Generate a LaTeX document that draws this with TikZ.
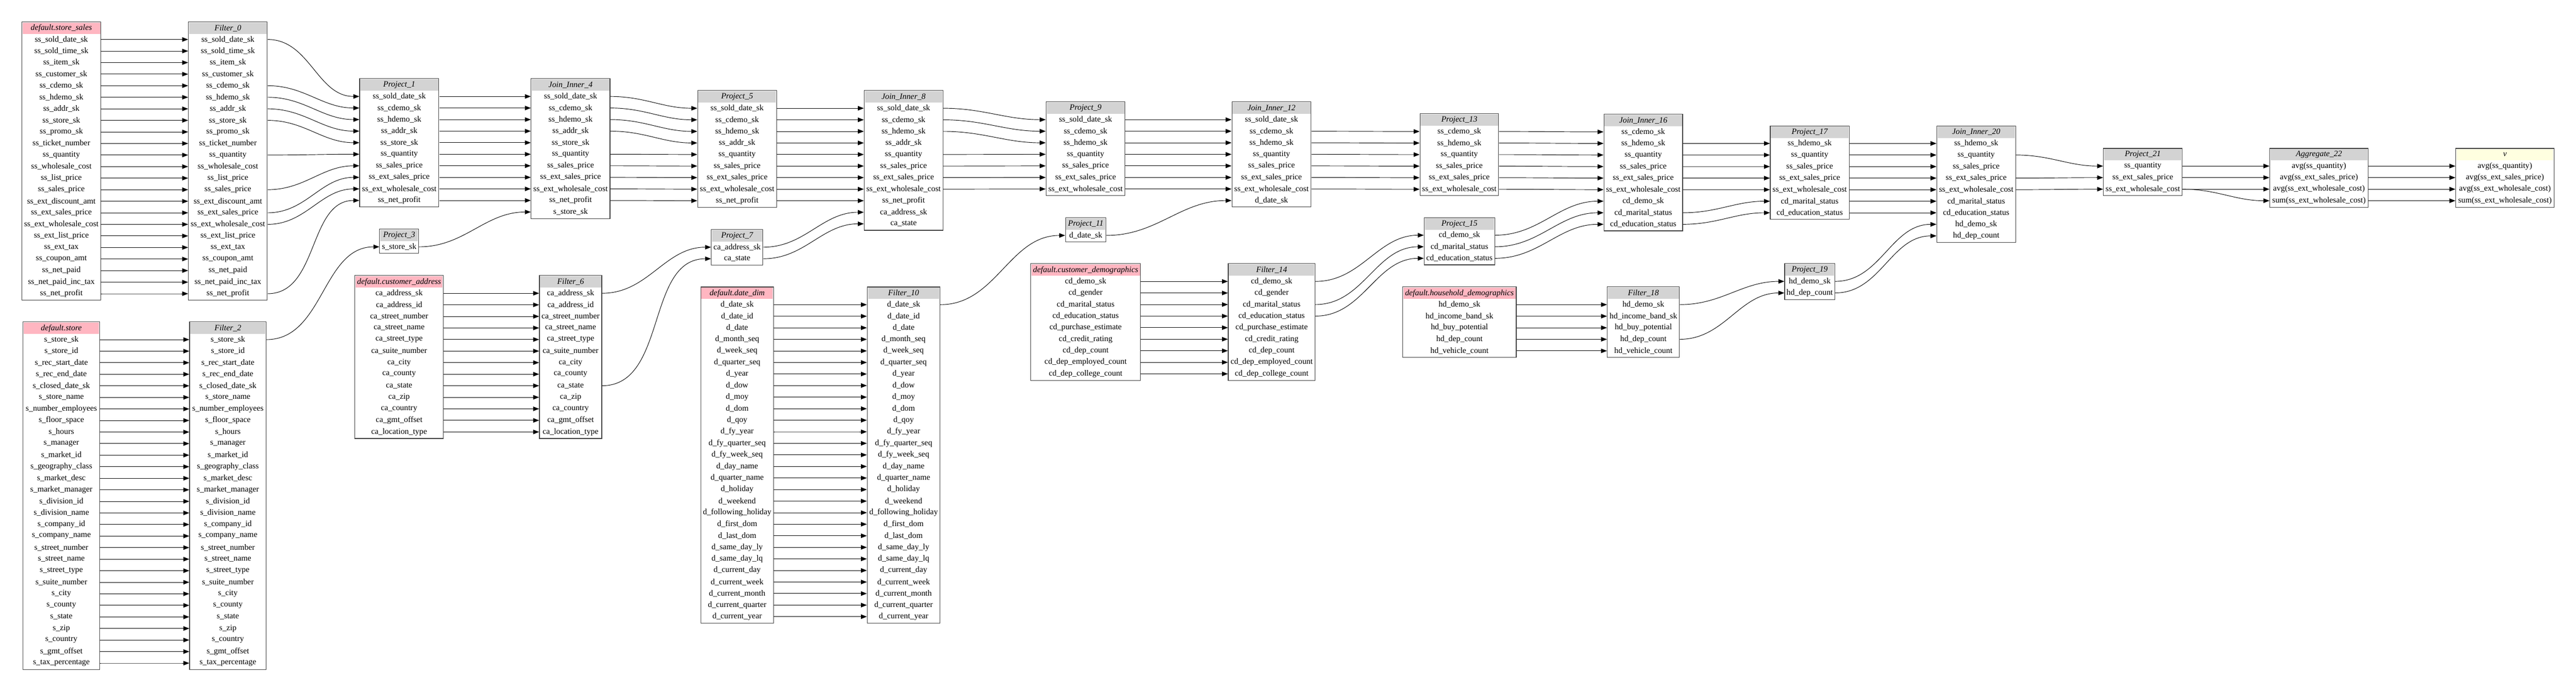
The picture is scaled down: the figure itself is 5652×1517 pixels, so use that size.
\documentclass[tikz,border=0pt]{standalone}
\usepackage{fontspec}
\setmainfont{Liberation Serif}
\usetikzlibrary{arrows.meta}

\definecolor{srcpink}{HTML}{FFB6C1}
\definecolor{opgray}{HTML}{D3D3D3}
\definecolor{outyellow}{HTML}{FFFFE0}

\tikzset{
  field/.style={inner sep=0pt, minimum height=0.2535cm, font=\fontsize{5.1}{6}\selectfont},
  title/.style={inner sep=0pt, font=\fontsize{5.1}{6}\selectfont\itshape},
  frame/.style={draw=black!75, line width=0.35pt},
  link/.style={-{Triangle[length=3.7pt,width=2.8pt]}, line width=0.3pt, out=0, in=180},
}

\newcommand{\optable}[7]{%
  \fill[#5] (#2+1.5,#3+1.5) rectangle (#2+#4-1.5,#3+26.5);
  \node[title] (#1-0) at (#2+#4/2,#3+14) {#6};
  \foreach \r [count=\i] in {#7} {
    \node[field, minimum width=#4*0.01cm] (#1-\i) at (#2+#4/2,#3+38.8+\i*25.35-25.35) {\r};
    \xdef\nrows{\i}
  }
  \draw[frame] (#2,#3) rectangle (#2+#4,#3+38.8+\nrows*25.35-25.35+14.3);
}

\begin{document}
\begin{tikzpicture}[x=0.01cm, y=-0.01cm]
\useasboundingbox (0,0) rectangle (5652,1517);

\optable{ss}{47.8}{47.8}{173.6}{srcpink}{default.store\_sales}{ss\_sold\_date\_sk, ss\_sold\_time\_sk, ss\_item\_sk, ss\_customer\_sk, ss\_cdemo\_sk, ss\_hdemo\_sk, ss\_addr\_sk, ss\_store\_sk, ss\_promo\_sk, ss\_ticket\_number, ss\_quantity, ss\_wholesale\_cost, ss\_list\_price, ss\_sales\_price, ss\_ext\_discount\_amt, ss\_ext\_sales\_price, ss\_ext\_wholesale\_cost, ss\_ext\_list\_price, ss\_ext\_tax, ss\_coupon\_amt, ss\_net\_paid, ss\_net\_paid\_inc\_tax, ss\_net\_profit}
\optable{f0}{413.4}{47.8}{173.2}{opgray}{Filter\_0}{ss\_sold\_date\_sk, ss\_sold\_time\_sk, ss\_item\_sk, ss\_customer\_sk, ss\_cdemo\_sk, ss\_hdemo\_sk, ss\_addr\_sk, ss\_store\_sk, ss\_promo\_sk, ss\_ticket\_number, ss\_quantity, ss\_wholesale\_cost, ss\_list\_price, ss\_sales\_price, ss\_ext\_discount\_amt, ss\_ext\_sales\_price, ss\_ext\_wholesale\_cost, ss\_ext\_list\_price, ss\_ext\_tax, ss\_coupon\_amt, ss\_net\_paid, ss\_net\_paid\_inc\_tax, ss\_net\_profit}
\optable{st}{50.4}{706.2}{168.4}{srcpink}{default.store}{s\_store\_sk, s\_store\_id, s\_rec\_start\_date, s\_rec\_end\_date, s\_closed\_date\_sk, s\_store\_name, s\_number\_employees, s\_floor\_space, s\_hours, s\_manager, s\_market\_id, s\_geography\_class, s\_market\_desc, s\_market\_manager, s\_division\_id, s\_division\_name, s\_company\_id, s\_company\_name, s\_street\_number, s\_street\_name, s\_street\_type, s\_suite\_number, s\_city, s\_county, s\_state, s\_zip, s\_country, s\_gmt\_offset, s\_tax\_percentage}
\optable{f2}{416}{706.2}{168}{opgray}{Filter\_2}{s\_store\_sk, s\_store\_id, s\_rec\_start\_date, s\_rec\_end\_date, s\_closed\_date\_sk, s\_store\_name, s\_number\_employees, s\_floor\_space, s\_hours, s\_manager, s\_market\_id, s\_geography\_class, s\_market\_desc, s\_market\_manager, s\_division\_id, s\_division\_name, s\_company\_id, s\_company\_name, s\_street\_number, s\_street\_name, s\_street\_type, s\_suite\_number, s\_city, s\_county, s\_state, s\_zip, s\_country, s\_gmt\_offset, s\_tax\_percentage}
\optable{p1}{789}{172.8}{174}{opgray}{Project\_1}{ss\_sold\_date\_sk, ss\_cdemo\_sk, ss\_hdemo\_sk, ss\_addr\_sk, ss\_store\_sk, ss\_quantity, ss\_sales\_price, ss\_ext\_sales\_price, ss\_ext\_wholesale\_cost, ss\_net\_profit}
\optable{p3}{833}{502.7}{85.6}{opgray}{Project\_3}{s\_store\_sk}
\optable{j4}{1165.3}{172.8}{173.1}{opgray}{Join\_Inner\_4}{ss\_sold\_date\_sk, ss\_cdemo\_sk, ss\_hdemo\_sk, ss\_addr\_sk, ss\_store\_sk, ss\_quantity, ss\_sales\_price, ss\_ext\_sales\_price, ss\_ext\_wholesale\_cost, ss\_net\_profit, s\_store\_sk}
\optable{ca}{778.4}{604.6}{194.6}{srcpink}{default.customer\_address}{ca\_address\_sk, ca\_address\_id, ca\_street\_number, ca\_street\_name, ca\_street\_type, ca\_suite\_number, ca\_city, ca\_county, ca\_state, ca\_zip, ca\_country, ca\_gmt\_offset, ca\_location\_type}
\optable{f6}{1183.5}{604.6}{136.8}{opgray}{Filter\_6}{ca\_address\_sk, ca\_address\_id, ca\_street\_number, ca\_street\_name, ca\_street\_type, ca\_suite\_number, ca\_city, ca\_county, ca\_state, ca\_zip, ca\_country, ca\_gmt\_offset, ca\_location\_type}
\optable{p5}{1530.6}{198.7}{173.4}{opgray}{Project\_5}{ss\_sold\_date\_sk, ss\_cdemo\_sk, ss\_hdemo\_sk, ss\_addr\_sk, ss\_quantity, ss\_sales\_price, ss\_ext\_sales\_price, ss\_ext\_wholesale\_cost, ss\_net\_profit}
\optable{p7}{1560.7}{503.5}{113.3}{opgray}{Project\_7}{ca\_address\_sk, ca\_state}
\optable{j8}{1896}{198.7}{173}{opgray}{Join\_Inner\_8}{ss\_sold\_date\_sk, ss\_cdemo\_sk, ss\_hdemo\_sk, ss\_addr\_sk, ss\_quantity, ss\_sales\_price, ss\_ext\_sales\_price, ss\_ext\_wholesale\_cost, ss\_net\_profit, ca\_address\_sk, ca\_state}
\optable{dd}{1537.5}{629.6}{159.8}{srcpink}{default.date\_dim}{d\_date\_sk, d\_date\_id, d\_date, d\_month\_seq, d\_week\_seq, d\_quarter\_seq, d\_year, d\_dow, d\_moy, d\_dom, d\_qoy, d\_fy\_year, d\_fy\_quarter\_seq, d\_fy\_week\_seq, d\_day\_name, d\_quarter\_name, d\_holiday, d\_weekend, d\_following\_holiday, d\_first\_dom, d\_last\_dom, d\_same\_day\_ly, d\_same\_day\_lq, d\_current\_day, d\_current\_week, d\_current\_month, d\_current\_quarter, d\_current\_year}
\optable{f10}{1902.7}{629.6}{159.8}{opgray}{Filter\_10}{d\_date\_sk, d\_date\_id, d\_date, d\_month\_seq, d\_week\_seq, d\_quarter\_seq, d\_year, d\_dow, d\_moy, d\_dom, d\_qoy, d\_fy\_year, d\_fy\_quarter\_seq, d\_fy\_week\_seq, d\_day\_name, d\_quarter\_name, d\_holiday, d\_weekend, d\_following\_holiday, d\_first\_dom, d\_last\_dom, d\_same\_day\_ly, d\_same\_day\_lq, d\_current\_day, d\_current\_week, d\_current\_month, d\_current\_quarter, d\_current\_year}
\optable{p9}{2295}{223.7}{173.6}{opgray}{Project\_9}{ss\_sold\_date\_sk, ss\_cdemo\_sk, ss\_hdemo\_sk, ss\_quantity, ss\_sales\_price, ss\_ext\_sales\_price, ss\_ext\_wholesale\_cost}
\optable{p11}{2337.7}{477.7}{89}{opgray}{Project\_11}{d\_date\_sk}
\optable{j12}{2702.8}{223.7}{173.9}{opgray}{Join\_Inner\_12}{ss\_sold\_date\_sk, ss\_cdemo\_sk, ss\_hdemo\_sk, ss\_quantity, ss\_sales\_price, ss\_ext\_sales\_price, ss\_ext\_wholesale\_cost, d\_date\_sk}
\optable{cd}{2261.4}{578.6}{241.1}{srcpink}{default.customer\_demographics}{cd\_demo\_sk, cd\_gender, cd\_marital\_status, cd\_education\_status, cd\_purchase\_estimate, cd\_credit\_rating, cd\_dep\_count, cd\_dep\_employed\_count, cd\_dep\_college\_count}
\optable{f14}{2694.8}{578.6}{190.6}{opgray}{Filter\_14}{cd\_demo\_sk, cd\_gender, cd\_marital\_status, cd\_education\_status, cd\_purchase\_estimate, cd\_credit\_rating, cd\_dep\_count, cd\_dep\_employed\_count, cd\_dep\_college\_count}
\optable{p13}{3115.4}{249.6}{172.8}{opgray}{Project\_13}{ss\_cdemo\_sk, ss\_hdemo\_sk, ss\_quantity, ss\_sales\_price, ss\_ext\_sales\_price, ss\_ext\_wholesale\_cost}
\optable{p15}{3124.6}{477.2}{155}{opgray}{Project\_15}{cd\_demo\_sk, cd\_marital\_status, cd\_education\_status}
\optable{j16}{3519}{250.5}{172.8}{opgray}{Join\_Inner\_16}{ss\_cdemo\_sk, ss\_hdemo\_sk, ss\_quantity, ss\_sales\_price, ss\_ext\_sales\_price, ss\_ext\_wholesale\_cost, cd\_demo\_sk, cd\_marital\_status, cd\_education\_status}
\optable{hd}{3077.6}{629.5}{249.1}{srcpink}{default.household\_demographics}{hd\_demo\_sk, hd\_income\_band\_sk, hd\_buy\_potential, hd\_dep\_count, hd\_vehicle\_count}
\optable{f18}{3526.5}{629.5}{158.4}{opgray}{Filter\_18}{hd\_demo\_sk, hd\_income\_band\_sk, hd\_buy\_potential, hd\_dep\_count, hd\_vehicle\_count}
\optable{p17}{3884}{275.9}{173.2}{opgray}{Project\_17}{ss\_hdemo\_sk, ss\_quantity, ss\_sales\_price, ss\_ext\_sales\_price, ss\_ext\_wholesale\_cost, cd\_marital\_status, cd\_education\_status}
\optable{p19}{3915.6}{578.5}{110.1}{opgray}{Project\_19}{hd\_demo\_sk, hd\_dep\_count}
\optable{j20}{4249.5}{275.9}{172.8}{opgray}{Join\_Inner\_20}{ss\_hdemo\_sk, ss\_quantity, ss\_sales\_price, ss\_ext\_sales\_price, ss\_ext\_wholesale\_cost, cd\_marital\_status, cd\_education\_status, hd\_demo\_sk, hd\_dep\_count}
\optable{p21}{4615}{325.5}{173}{opgray}{Project\_21}{ss\_quantity, ss\_ext\_sales\_price, ss\_ext\_wholesale\_cost}
\optable{a22}{4980}{325.5}{216}{opgray}{Aggregate\_22}{avg(ss\_quantity), avg(ss\_ext\_sales\_price), avg(ss\_ext\_wholesale\_cost), sum(ss\_ext\_wholesale\_cost)}
\optable{v}{5388}{325.5}{216}{outyellow}{v}{avg(ss\_quantity), avg(ss\_ext\_sales\_price), avg(ss\_ext\_wholesale\_cost), sum(ss\_ext\_wholesale\_cost)}

\foreach \i in {1,...,23} \draw[link] (ss-\i.east) to (f0-\i.west);
\foreach \i in {1,...,29} \draw[link] (st-\i.east) to (f2-\i.west);
\foreach \a/\b in {1/1, 5/2, 6/3, 7/4, 8/5, 11/6, 14/7, 16/8, 17/9, 23/10} \draw[link] (f0-\a.east) to (p1-\b.west);
\draw[link] (f2-1.east) to (p3-1.west);
\foreach \i in {1,...,10} \draw[link] (p1-\i.east) to (j4-\i.west);
\draw[link] (p3-1.east) to (j4-11.west);
\foreach \i in {1,...,13} \draw[link] (ca-\i.east) to (f6-\i.west);
\foreach \a/\b in {1/1, 2/2, 3/3, 4/4, 6/5, 7/6, 8/7, 9/8, 10/9} \draw[link] (j4-\a.east) to (p5-\b.west);
\draw[link] (f6-1.east) to (p7-1.west);
\draw[link] (f6-9.east) to (p7-2.west);
\foreach \i in {1,...,9} \draw[link] (p5-\i.east) to (j8-\i.west);
\draw[link] (p7-1.east) to (j8-10.west);
\draw[link] (p7-2.east) to (j8-11.west);
\foreach \i in {1,...,28} \draw[link] (dd-\i.east) to (f10-\i.west);
\foreach \a/\b in {1/1, 2/2, 3/3, 5/4, 6/5, 7/6, 8/7} \draw[link] (j8-\a.east) to (p9-\b.west);
\draw[link] (f10-1.east) to (p11-1.west);
\foreach \i in {1,...,7} \draw[link] (p9-\i.east) to (j12-\i.west);
\draw[link] (p11-1.east) to (j12-8.west);
\foreach \i in {1,...,9} \draw[link] (cd-\i.east) to (f14-\i.west);
\foreach \a/\b in {2/1, 3/2, 4/3, 5/4, 6/5, 7/6} \draw[link] (j12-\a.east) to (p13-\b.west);
\foreach \a/\b in {1/1, 3/2, 4/3} \draw[link] (f14-\a.east) to (p15-\b.west);
\foreach \i in {1,...,6} \draw[link] (p13-\i.east) to (j16-\i.west);
\foreach \a/\b in {1/7, 2/8, 3/9} \draw[link] (p15-\a.east) to (j16-\b.west);
\foreach \i in {1,...,5} \draw[link] (hd-\i.east) to (f18-\i.west);
\foreach \a/\b in {2/1, 3/2, 4/3, 5/4, 6/5, 8/6, 9/7} \draw[link] (j16-\a.east) to (p17-\b.west);
\foreach \a/\b in {1/1, 4/2} \draw[link] (f18-\a.east) to (p19-\b.west);
\foreach \i in {1,...,7} \draw[link] (p17-\i.east) to (j20-\i.west);
\foreach \a/\b in {1/8, 2/9} \draw[link] (p19-\a.east) to (j20-\b.west);
\foreach \a/\b in {2/1, 4/2, 5/3} \draw[link] (j20-\a.east) to (p21-\b.west);
\foreach \a/\b in {1/1, 2/2, 3/3, 3/4} \draw[link] (p21-\a.east) to (a22-\b.west);
\foreach \i in {1,...,4} \draw[link] (a22-\i.east) to (v-\i.west);
\end{tikzpicture}
\end{document}
